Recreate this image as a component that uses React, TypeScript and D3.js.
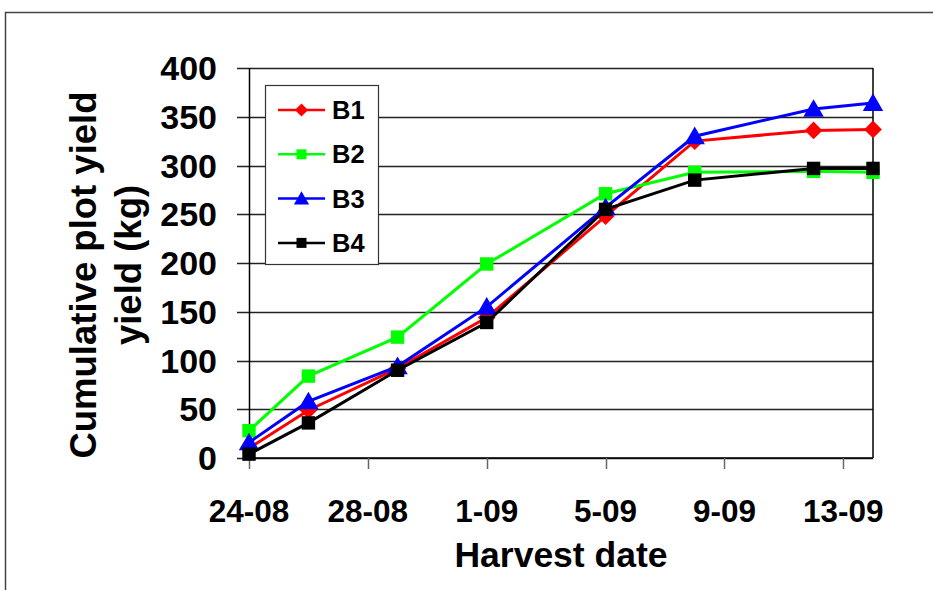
import * as d3 from "d3";
import React, { Component } from "react";

const harvestDates = [
  "2003-08-24",
  "2003-08-26",
  "2003-08-29",
  "2003-09-01",
  "2003-09-05",
  "2003-09-08",
  "2003-09-12",
  "2003-09-14",
];
const seriesNames = ["B1", "B2", "B3", "B4"];
const b1 = [10, 49, 92, 144, 248, 325, 336, 337];
const b2 = [28, 84, 124, 199, 271, 293, 294, 293];
const b3 = [16, 58, 94, 155, 257, 330, 358, 364];
const b4 = [4, 36, 90, 139, 255, 285, 297, 297];
const xTickDates = [
  "2003-08-24",
  "2003-08-28",
  "2003-09-01",
  "2003-09-05",
  "2003-09-09",
  "2003-09-13",
];
const yTicks = [0, 50, 100, 150, 200, 250, 300, 350, 400];

const colors = ["#ff0000", "#00ff00", "#0000ff", "#000000"];
const symbols = [d3.symbolDiamond2, d3.symbolSquare, d3.symbolTriangle, d3.symbolSquare];

export default class App extends Component {
  chartRef: any;
  componentDidMount(): void {
    const parse = d3.timeParse("%Y-%m-%d");
    const dates = harvestDates.map((d) => parse(d) as Date);
    const series = [b1, b2, b3, b4];
    const font = "'Liberation Sans', Arial, sans-serif";

    const svg = d3.select(this.chartRef);
    svg.selectAll("*").remove();

    const margin = { top: 68, left: 249, right: 60, bottom: 132 };
    const W = 933;
    const H = 590;
    const width = W - margin.left - margin.right;
    const height = H - margin.top - margin.bottom;

    // outer frame
    svg
      .append("rect")
      .attr("x", 5.5)
      .attr("y", 12.5)
      .attr("width", 1000)
      .attr("height", 700)
      .attr("fill", "none")
      .attr("stroke", "#444")
      .attr("stroke-width", 1.5);

    const x = d3
      .scaleTime()
      .domain([parse("2003-08-24") as Date, parse("2003-09-14") as Date])
      .range([0, width]);
    const y = d3.scaleLinear().domain([0, 400]).range([height, 0]);

    const main = svg
      .append("g")
      .attr("transform", `translate(${margin.left}, ${margin.top})`);

    // horizontal grid + left tick stubs
    main
      .selectAll(".grid")
      .data(yTicks)
      .enter()
      .append("line")
      .attr("x1", -12)
      .attr("x2", width)
      .attr("y1", (d) => Math.round(y(d)) + 0.5)
      .attr("y2", (d) => Math.round(y(d)) + 0.5)
      .attr("stroke", "#222")
      .attr("stroke-width", 1.3);

    main
      .selectAll(".ylab")
      .data(yTicks)
      .enter()
      .append("text")
      .attr("x", -32)
      .attr("y", (d) => y(d))
      .attr("dy", "0.36em")
      .attr("text-anchor", "end")
      .attr("font-family", font)
      .attr("font-weight", 700)
      .attr("font-size", 34)
      .text((d) => d);

    // axis frame
    main
      .append("line")
      .attr("x1", 0.5)
      .attr("x2", 0.5)
      .attr("y1", 0)
      .attr("y2", height)
      .attr("stroke", "#000")
      .attr("stroke-width", 1.5);
    main
      .append("line")
      .attr("x1", width)
      .attr("x2", width)
      .attr("y1", 0)
      .attr("y2", height)
      .attr("stroke", "#000")
      .attr("stroke-width", 1.5);
    main
      .append("line")
      .attr("x1", 0)
      .attr("x2", width)
      .attr("y1", height)
      .attr("y2", height)
      .attr("stroke", "#000")
      .attr("stroke-width", 1.5);

    const xt = xTickDates.map((d) => parse(d) as Date);
    main
      .selectAll(".xtick")
      .data(xt)
      .enter()
      .append("line")
      .attr("x1", (d) => Math.round(x(d)) + 0.5)
      .attr("x2", (d) => Math.round(x(d)) + 0.5)
      .attr("y1", height)
      .attr("y2", height + 11)
      .attr("stroke", "#666")
      .attr("stroke-width", 1.5);

    const fmt = d3.timeFormat("%-d-%m");
    main
      .selectAll(".xlab")
      .data(xt)
      .enter()
      .append("text")
      .attr("x", (d) => x(d))
      .attr("y", height + 64)
      .attr("text-anchor", "middle")
      .attr("font-family", font)
      .attr("font-weight", 700)
      .attr("font-size", 31.5)
      .text((d) => fmt(d));

    // axis titles
    svg
      .append("text")
      .attr("x", 561)
      .attr("y", 567)
      .attr("text-anchor", "middle")
      .attr("font-family", font)
      .attr("font-weight", 700)
      .attr("font-size", 35.5)
      .text("Harvest date");

    const yTitle = ["Cumulative plot yield", "yield (kg)"];
    svg
      .selectAll(".ytitle")
      .data(yTitle)
      .enter()
      .append("text")
      .attr("transform", (d, i) =>
        `translate(${i === 0 ? 96 : 141}, ${i === 0 ? 275 : 265}) rotate(-90)`
      )
      .attr("text-anchor", "middle")
      .attr("font-family", font)
      .attr("font-weight", 700)
      .attr("font-size", 36.5)
      .text((d) => d);

    // legend (drawn under the lines, over the grid)
    const legend = svg.append("g");
    legend
      .append("rect")
      .attr("x", 265.5)
      .attr("y", 85.5)
      .attr("width", 113)
      .attr("height", 179)
      .attr("fill", "#fff")
      .attr("stroke", "#333")
      .attr("stroke-width", 1.2);
    seriesNames.forEach((name, i) => {
      const ly = 110 + i * 44.3;
      legend
        .append("line")
        .attr("x1", 278)
        .attr("x2", 325)
        .attr("y1", ly)
        .attr("y2", ly)
        .attr("stroke", colors[i])
        .attr("stroke-width", 2.5);
      legend
        .append("path")
        .attr("transform", `translate(301.5, ${ly + (i === 2 ? 1.5 : 0)})`)
        .attr("d", d3.symbol().type(symbols[i]).size(i === 0 ? 110 : 100)())
        .attr("fill", colors[i]);
      legend
        .append("text")
        .attr("x", 332)
        .attr("y", ly)
        .attr("dy", "0.36em")
        .attr("font-family", font)
        .attr("font-weight", 700)
        .attr("font-size", 25.5)
        .text(name);
    });

    const line = d3
      .line<number>()
      .x((d, i) => x(dates[i]))
      .y((d) => y(d));

    series.forEach((vals, i) => {
      const g = main.append("g");
      g.append("path")
        .datum(vals)
        .attr("d", line)
        .attr("fill", "none")
        .attr("stroke", colors[i])
        .attr("stroke-width", 3);
      g.selectAll("path.m")
        .data(vals)
        .enter()
        .append("path")
        .attr("class", "m")
        .attr(
          "transform",
          (d, j) => `translate(${x(dates[j])}, ${y(d) + (i === 2 ? 2 : 0)})`
        )
        .attr("d", d3.symbol().type(symbols[i]).size(i === 0 ? 200 : 180)())
        .attr("fill", colors[i]);
    });
  }
  render() {
    return (
      <svg
        ref={(r) => (this.chartRef = r)}
        width={933}
        height={590}
        style={{ position: "absolute", left: 0, top: 0, background: "#fff" }}
      ></svg>
    );
  }
}
